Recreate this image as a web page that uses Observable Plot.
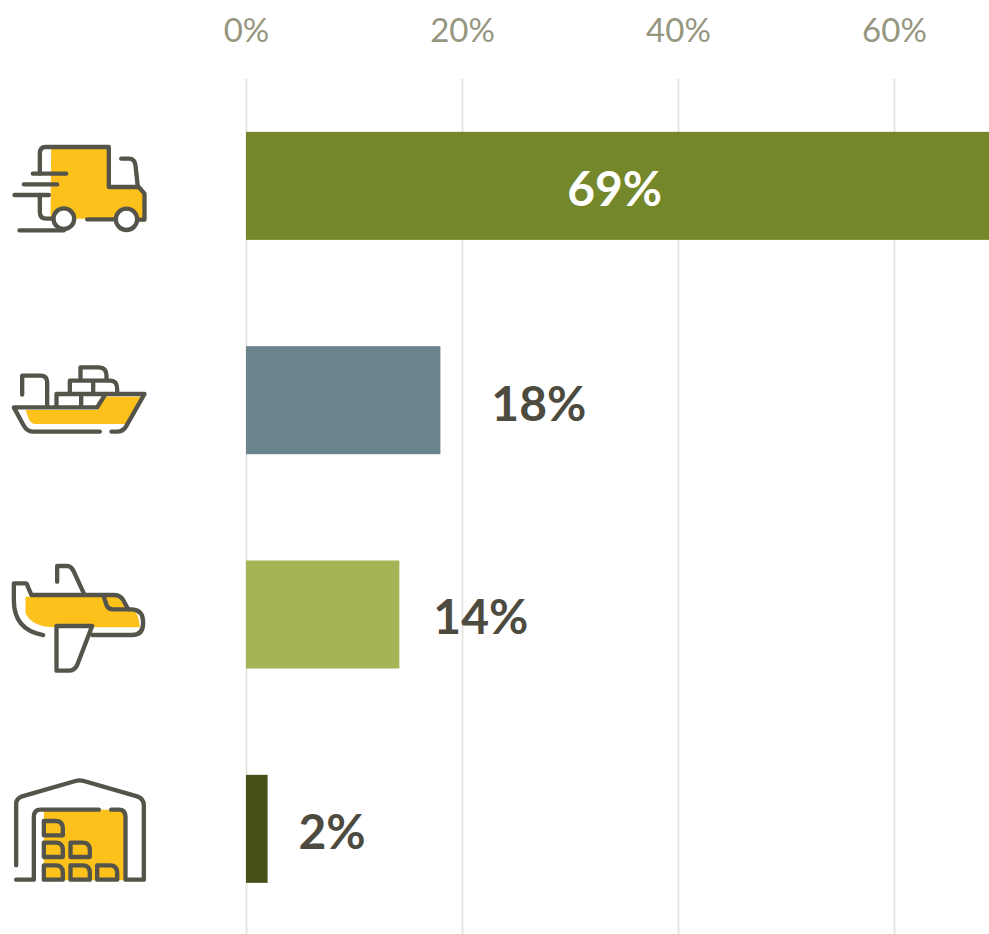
<!DOCTYPE html>
<html>
<head>
<meta charset="utf-8">
<script src="https://cdn.jsdelivr.net/npm/d3@7"></script>
<script src="https://cdn.jsdelivr.net/npm/@observablehq/plot@0.6"></script>
<style>
html,body{margin:0;padding:0;background:#fff;overflow:hidden}
svg{display:block}
</style>
</head>
<body>
<div id="chart"></div>
<script>
const categories = ["Road", "Sea", "Air", "Warehouse"];
const shares = [69, 18, 14.2, 2];
const barColors = ["#74872A", "#6B838A", "#A4B555", "#465119"];
const tickValues = [0, 20, 40, 60];

const ink = "#55544A";
const amber = "#FDC11C";
const wrap = (viewBox, body) =>
  "data:image/svg+xml," + encodeURIComponent(
    `<svg xmlns="http://www.w3.org/2000/svg" viewBox="${viewBox}" width="160" height="120">` +
    `<g fill="none" stroke="${ink}" stroke-width="13" stroke-linecap="round" stroke-linejoin="round">${body}</g></svg>`);

const truck = wrap("0 -12 480 360", `
<path stroke="none" fill="${amber}" d="M152 52H325V170H415L432 190V265H150Z"/>
<path d="M118 130V70Q118 50 135 50H325V170H415L432 190V268H412"/>
<path d="M97 130H197M70 162H170M42 194H145M57 300H190M260 267H345"/>
<path d="M118 194V245Q118 265 138 265H158"/>
<path d="M362 85H385Q403 85 405 105L412 170"/>
<circle cx="190" cy="265" r="31" fill="#fff"/><circle cx="378" cy="267" r="32" fill="#fff"/>`);

const ship = wrap("0 630 480 360", `
<path stroke="none" fill="${amber}" d="M75 838H290L315 798H425L375 880H105Q92 880 85 865Z"/>
<path d="M298 903H100Q80 903 70 885L40 830H290L315 790H432L375 890Q365 903 350 903H333"/>
<path d="M65 792V735H120Q140 735 140 755V828"/>
<path d="M168 828V790H315M242 790V828M208 790V750H330Q350 750 350 775V790M278 750V790M240 750V710H295Q318 710 318 735V750"/>`);

const plane = wrap("0 15 480 360", `
<path stroke="none" fill="${amber}" d="M75 140H340Q360 140 375 175H395Q415 190 418 232H165Q95 232 75 190Z"/>
<path d="M128 255Q40 240 40 150V100H75Q80 100 82 110L93 135H340Q358 135 368 150L383 178H395Q428 180 428 218Q428 255 395 255H275"/>
<path d="M170 95V48H200Q212 48 220 65L250 130"/>
<path d="M275 228H168V362H205Q222 362 230 345Z"/>
<path d="M310 140L318 165Q322 178 340 178H385"/>`);

const crate = (x, y, w, h) => `<path d="M${x} ${y}H${x+w-22}Q${x+w} ${y} ${x+w} ${y+22}V${y+h}H${x}Z"/>`;
const warehouse = wrap("0 657 480 360", `
<path stroke="none" fill="${amber}" d="M130 778H375V990H130Z"/>
<path d="M47 945V760Q47 745 65 738L225 692Q237 688 250 692L410 738Q430 745 430 765V988H375V800Q375 778 355 778H332"/>
<path d="M295 778H120Q100 778 100 800V988H47"/>
${crate(130,812,57,43)}${crate(130,877,57,43)}${crate(210,877,58,43)}${crate(130,945,57,43)}${crate(210,945,58,43)}${crate(290,945,60,43)}`);

const icons = [truck, ship, plane, warehouse];
const rows = categories.map((category, i) => ({category, share: shares[i], color: barColors[i], icon: icons[i]}));

const label = (row, dx, dy, fill) => Plot.text([row], {
  x: "share", y: "category", text: d => Math.round(d.share) + "%",
  textAnchor: "middle", dx, dy, fill,
  fontSize: 48, fontWeight: 700, fontFamily: "Lato"
});

const chart = Plot.plot({
  width: 989,
  height: 934,
  marginLeft: 246,
  marginRight: 0,
  marginTop: 79,
  marginBottom: 0,
  style: {background: "#fff", fontFamily: "Lato"},
  x: {domain: [0, 68.8], axis: null},
  y: {domain: categories, range: [78.7, 936], paddingInner: 0.496, paddingOuter: 0.248, round: false, axis: null},
  marks: [
    Plot.gridX(tickValues, {stroke: "#E6E6E0", strokeWidth: 2, strokeOpacity: 1}),
    Plot.axisX(tickValues, {
      anchor: "top", tickSize: 0, tickPadding: 38, label: null,
      tickFormat: d => d + "%", fontSize: 33, fill: "#96967F", fontFamily: "Lato"
    }),
    Plot.barX(rows, {x: "share", y: "category", fill: "color", clip: "frame"}),
    Plot.image(rows, {x: () => 0, y: "category", src: "icon", width: 160, height: 120, dx: -166}),
    label(rows[0], -377, 4, "#fff"),
    label(rows[1], 98, 5, "#4D4B3F"),
    label(rows[2], 81, 4, "#4D4B3F"),
    label(rows[3], 64, 4, "#4D4B3F")
  ]
});
document.getElementById("chart").append(chart);
</script>
</body>
</html>
